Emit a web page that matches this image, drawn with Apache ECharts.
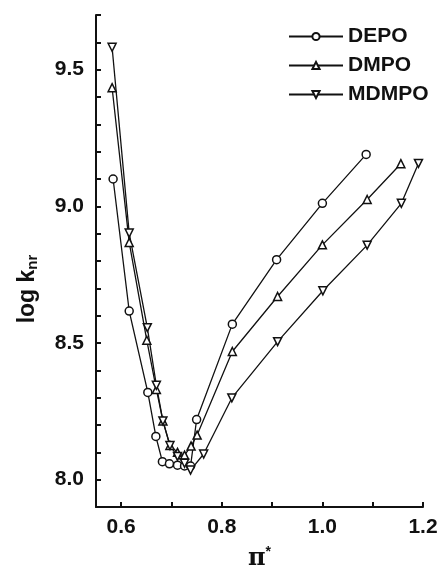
<!DOCTYPE html>
<html>
<head>
<meta charset="utf-8">
<script src="https://cdn.jsdelivr.net/npm/echarts@6/dist/echarts.min.js"></script>
<style>
  html, body { margin: 0; padding: 0; background: #fff; }
  #myChart { width: 440px; height: 566px; }
</style>
</head>
<body>
<div id="myChart"></div>
<script>
  // DEPO
  let depoX = [0.584, 0.616, 0.653, 0.669, 0.682, 0.696, 0.712, 0.726, 0.738, 0.75, 0.821, 0.909, 1.0, 1.087]
  let depoY = [9.10, 8.617, 8.319, 8.158, 8.066, 8.058, 8.053, 8.05, 8.05, 8.22, 8.569, 8.805, 9.011, 9.19]
  // DMPO
  let dmpoX = [0.582, 0.616, 0.651, 0.67, 0.683, 0.697, 0.712, 0.726, 0.739, 0.751, 0.821, 0.911, 1.0, 1.089, 1.156]
  let dmpoY = [9.434, 8.868, 8.51, 8.33, 8.215, 8.125, 8.10, 8.09, 8.123, 8.163, 8.469, 8.67, 8.859, 9.025, 9.156]
  // MDMPO
  let mdmpoX = [0.582, 0.616, 0.652, 0.67, 0.683, 0.697, 0.712, 0.726, 0.738, 0.764, 0.82, 0.911, 1.001, 1.089, 1.157, 1.191]
  let mdmpoY = [9.582, 8.902, 8.556, 8.345, 8.215, 8.125, 8.085, 8.06, 8.035, 8.094, 8.299, 8.505, 8.691, 8.858, 9.011, 9.157]

  let xTicks = [0.6, 0.7, 0.8, 0.9, 1.0, 1.1, 1.2]
  let xLabels = [0.6, 0.8, 1.0, 1.2]
  let yTicks = [7.9, 8.0, 8.1, 8.2, 8.3, 8.4, 8.5, 8.6, 8.7, 8.8, 8.9, 9.0, 9.1, 9.2, 9.3, 9.4, 9.5, 9.6, 9.7]
  let yLabels = [8.0, 8.5, 9.0, 9.5]

  function pairs(xs, ys) {
    return xs.map((x, i) => [x, ys[i]])
  }

  let font = 'Liberation Sans, Arial, sans-serif'

  function makeSeries(name, symbol, rotate, xs, ys) {
    return {
      name: name,
      type: 'line',
      data: pairs(xs, ys),
      symbol: symbol,
      symbolRotate: rotate,
      symbolSize: 8,
      showAllSymbol: true,
      lineStyle: { color: '#111', width: 1.3 },
      itemStyle: { color: '#fff', borderColor: '#111', borderWidth: 1.5 },
      emphasis: { disabled: true },
      z: 2
    }
  }

  let myChart = echarts.init(document.getElementById('myChart'))

  let option = {
    backgroundColor: '#fff',
    animation: false,
    textStyle: { fontFamily: font },
    grid: { left: 96, right: 17, top: 15, bottom: 59, outerBoundsMode: 'none', containLabel: false },
    legend: {
      orient: 'vertical',
      left: 283,
      top: 21,
      itemWidth: 54,
      itemHeight: 9,
      itemGap: 8,
      textStyle: { fontSize: 21, fontWeight: 'bold', color: '#111', fontFamily: font },
      data: ['DEPO', 'DMPO', 'MDMPO']
    },
    xAxis: {
      type: 'value',
      min: 0.55,
      max: 1.2,
      name: '{a|π}{b|*}',
      nameLocation: 'middle',
      nameGap: 38,
      nameTextStyle: {
        rich: {
          a: { fontSize: 24, fontWeight: 'bold', color: '#111', fontFamily: 'DejaVu Serif' },
          b: { fontSize: 14, fontWeight: 'bold', color: '#111', verticalAlign: 'top', padding: [0, 0, 14, 0] }
        }
      },
      splitLine: { show: false },
      axisLine: { onZero: false, lineStyle: { color: '#111', width: 2 } },
      axisTick: { inside: true, length: 5, lineStyle: { color: '#111', width: 2 }, customValues: xTicks },
      axisLabel: {
        customValues: xLabels,
        margin: 10,
        fontSize: 21,
        fontWeight: 'bold',
        color: '#111',
        formatter: v => v.toFixed(1)
      }
    },
    yAxis: {
      type: 'value',
      min: 7.9,
      max: 9.7,
      splitLine: { show: false },
      axisLine: { onZero: false, lineStyle: { color: '#111', width: 2 } },
      axisTick: { inside: true, length: 5, lineStyle: { color: '#111', width: 2 }, customValues: yTicks },
      axisLabel: {
        customValues: yLabels,
        margin: 12,
        fontSize: 21,
        fontWeight: 'bold',
        color: '#111',
        formatter: v => v.toFixed(1)
      }
    },
    graphic: [
      {
        type: 'text',
        x: 28,
        y: 289,
        rotation: Math.PI / 2,
        style: {
          text: '{a|log k}{b|nr}',
          align: 'center',
          verticalAlign: 'middle',
          rich: {
            a: { fontSize: 23, fontWeight: 'bold', fill: '#111', fontFamily: font },
            b: { fontSize: 15, fontWeight: 'bold', fill: '#111', fontFamily: font, verticalAlign: 'bottom', padding: [10, 0, 0, 0] }
          }
        }
      }
    ],
    series: [
      makeSeries('DEPO', 'circle', 0, depoX, depoY),
      makeSeries('DMPO', 'triangle', 0, dmpoX, dmpoY),
      makeSeries('MDMPO', 'triangle', 180, mdmpoX, mdmpoY)
    ]
  }

  myChart.setOption(option)
</script>
</body>
</html>
